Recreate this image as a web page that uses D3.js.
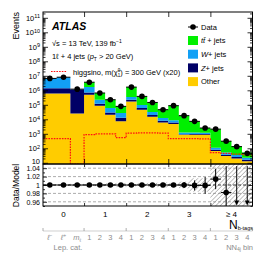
<!DOCTYPE html>
<html>
<head>
<meta charset="utf-8">
<script src="https://cdn.jsdelivr.net/npm/d3@7"></script>
<style>
  body { margin: 0; background: #fff; }
  svg text { font-family: "Liberation Sans", Arial, Helvetica, sans-serif; }
</style>
</head>
<body>
<svg id="chart" width="266" height="253"></svg>
<script>
'use strict';

// Bins: three lepton categories (0 b-tags), then NN bins 1-4 per b-tag group.
var binLabels = ['ℓ-', 'ℓ+', 'mℓ',
  '1', '2', '3', '4', '1', '2', '3', '4',
  '1', '2', '3', '4', '1', '2', '3', '4'];
var groupLabels = ['0', '1', '2', '3', '≥ 4'];
var groupSizes = [3, 4, 4, 4, 4];

var data = [6.6e6, 8.0e6, 1.2e6, 3.6e6, 6.5e5, 2.24e5, 7.8e4, 1.66e6, 3.8e5,
  1.45e5, 4.6e4, 8.7e4, 1.78e4, 7.2e3, 2.5e3, 2.1e3, 310, 130, 45];
var ttbar = [3e4, 3.5e4, 5e3, 1.95e6, 4.26e5, 1.64e5, 5.05e4, 1.31e6, 2.84e5,
  1.13e5, 3.36e4, 7.85e4, 1.66e4, 6.05e3, 1.3e3, 1.99e3, 265, 106, 29];
var wjets = [5.15e6, 6.55e6, 3e4, 9.5e5, 1.04e5, 3.0e4, 1.49e4, 1.26e5, 3.5e4,
  1.2e4, 4.5e3, 2.5e3, 300, 270, 250, 30, 15, 10, 6];
var zjets = [8.1e5, 8.1e5, 1.12e6, 2.1e5, 3.3e4, 9e3, 5.4e3, 5.4e4, 1.5e4,
  5e3, 2e3, 1.2e3, 80, 80, 80, 15, 7, 5, 3];
var other = [6.0e5, 6.0e5, 2.5e4, 5.0e5, 8.7e4, 2.1e4, 7.2e3, 1.7e5, 4.6e4,
  1.5e4, 5.9e3, 4.8e3, 850, 870, 870, 65, 29, 20, 13];
// higgsino signal, scaled x20
var signal = [460, 460, 3, 890, 1000, 1000, 540, 1100, 1170, 1170, 1100,
  460, 460, 460, 440, 50, 45, 40, 35];

// Data/Model panel
var ratio = [1, 1, 1, 1, 1, 1, 1, 1, 1, 1, 1, 1, 1, 0.999, 0.999, 1.014,
  0.982, 0.92, 0.88];
var ratioErr = [0.0005, 0.0005, 0.001, 0.0006, 0.0013, 0.002, 0.004, 0.001,
  0.002, 0.003, 0.005, 0.003, 0.007, 0.012, 0.02, 0.024, 0.063, 0.125, 0.165];
var modelErr = [0.002, 0.002, 0.003, 0.002, 0.003, 0.004, 0.005, 0.003, 0.004,
  0.005, 0.006, 0.005, 0.008, 0.016, 0.016, 0.06, 0.06, 0.06, 0.06];
var ratioTicks = [0.96, 0.98, 1, 1.02, 1.04];

var legendItems = [
  {key: 'ttbar', label: 'tt̄ + jets', color: '#00f000'},
  {key: 'wjets', label: 'W+ jets', color: '#12a0f5'},
  {key: 'zjets', label: 'Z+ jets', color: '#000066'},
  {key: 'other', label: 'Other', color: '#ffcc00'}
];

// ---- layout ----
var frame = {left: 43, right: 252.5, top: 12, mainBottom: 164, ratioBottom: 206};
var lepWidth = 1.3;
var edges = [0];
binLabels.forEach(function(b, i) {
  edges.push(edges[i] + (i < 3 ? lepWidth : 1));
});
var groupEdges = [0];
groupSizes.forEach(function(n, i) { groupEdges.push(groupEdges[i] + n); });

var svg = d3.select('#chart');
var x = d3.scaleLinear().domain([0, edges[edges.length - 1]])
  .range([frame.left, frame.right]);
var yMin = Math.pow(10, 0.917), yMax = Math.pow(10, 11.4);
var y = d3.scaleLog().domain([yMin, yMax]).range([frame.mainBottom, frame.top]);
var yr = d3.scaleLinear().domain([0.95, 1.05])
  .range([frame.ratioBottom, frame.mainBottom]);
var colors = {};
legendItems.forEach(function(d) { colors[d.key] = d.color; });

var defs = svg.append('defs');
defs.append('clipPath').attr('id', 'clipMain').append('rect')
  .attr('x', frame.left).attr('y', frame.top)
  .attr('width', frame.right - frame.left)
  .attr('height', frame.mainBottom - frame.top);
defs.append('clipPath').attr('id', 'clipRatio').append('rect')
  .attr('x', frame.left).attr('y', frame.mainBottom)
  .attr('width', frame.right - frame.left)
  .attr('height', frame.ratioBottom - frame.mainBottom);
defs.append('pattern').attr('id', 'hatch')
  .attr('width', 3.2).attr('height', 3.2)
  .attr('patternUnits', 'userSpaceOnUse')
  .attr('patternTransform', 'rotate(45)')
  .append('line').attr('x1', 0).attr('y1', 0).attr('x2', 0).attr('y2', 3.2)
  .attr('stroke', '#555').attr('stroke-width', 0.7);

function lo(v) { return Math.max(v, yMin); }

// ---- stacked backgrounds ----
var rows = binLabels.map(function(b, i) {
  return {other: other[i], zjets: zjets[i], wjets: wjets[i], ttbar: ttbar[i]};
});
var stack = d3.stack().keys(['other', 'zjets', 'wjets', 'ttbar'])(rows);
var area = d3.area()
  .x(function(p) { return x(p.x); })
  .y0(function(p) { return y(lo(p.y0)); })
  .y1(function(p) { return y(lo(p.y1)); });

var main = svg.append('g').attr('clip-path', 'url(#clipMain)');
stack.forEach(function(layer) {
  var pts = [];
  layer.forEach(function(s, i) {
    pts.push({x: edges[i], y0: s[0], y1: s[1]});
    pts.push({x: edges[i + 1], y0: s[0], y1: s[1]});
  });
  main.append('path').attr('d', area(pts)).attr('fill', colors[layer.key]);
});

// signal as a dotted step line
var sigPts = [];
signal.forEach(function(v, i) {
  sigPts.push([x(edges[i]), y(lo(v))]);
  sigPts.push([x(edges[i + 1]), y(lo(v))]);
});
main.append('path').attr('d', d3.line()(sigPts))
  .attr('fill', 'none').attr('stroke', '#ff1010')
  .attr('stroke-width', 1.2).attr('stroke-dasharray', '1.6,1.1');

// data points
var centers = binLabels.map(function(b, i) { return x((edges[i] + edges[i + 1]) / 2); });
data.forEach(function(v, i) {
  main.append('line')
    .attr('x1', x(edges[i])).attr('x2', x(edges[i + 1]))
    .attr('y1', y(v)).attr('y2', y(v))
    .attr('stroke', '#000').attr('stroke-width', 1);
  main.append('circle').attr('cx', centers[i]).attr('cy', y(v)).attr('r', 2.8)
    .attr('fill', '#000');
});

// ---- ratio panel ----
var rp = svg.append('g').attr('clip-path', 'url(#clipRatio)');
modelErr.forEach(function(e, i) {
  rp.append('rect')
    .attr('x', x(edges[i])).attr('width', x(edges[i + 1]) - x(edges[i]))
    .attr('y', yr(1 + e)).attr('height', yr(1 - e) - yr(1 + e))
    .attr('fill', 'url(#hatch)');
});
ratioTicks.forEach(function(t) {
  rp.append('line')
    .attr('x1', frame.left).attr('x2', frame.right)
    .attr('y1', yr(t)).attr('y2', yr(t))
    .attr('stroke', t === 1 ? '#000' : '#8a8a8a')
    .attr('stroke-width', t === 1 ? 0.8 : 0.7)
    .attr('stroke-dasharray', '3,2');
});
ratio.forEach(function(r, i) {
  var top = yr(r + ratioErr[i]);
  if (r < 0.95) {
    // off-scale: line down to an arrow head at the bottom
    var bx = centers[i], by = frame.ratioBottom - 0.5;
    rp.append('line').attr('x1', bx).attr('x2', bx)
      .attr('y1', top).attr('y2', by - 4)
      .attr('stroke', '#000').attr('stroke-width', 1);
    rp.append('path')
      .attr('d', 'M' + (bx - 2.4) + ',' + (by - 5) + 'L' + (bx + 2.4) + ',' +
        (by - 5) + 'L' + bx + ',' + by + 'Z')
      .attr('fill', '#000');
    return;
  }
  rp.append('line').attr('x1', centers[i]).attr('x2', centers[i])
    .attr('y1', top).attr('y2', yr(r - ratioErr[i]))
    .attr('stroke', '#000').attr('stroke-width', 1);
  rp.append('line')
    .attr('x1', x(edges[i])).attr('x2', x(edges[i + 1]))
    .attr('y1', yr(r)).attr('y2', yr(r))
    .attr('stroke', '#000').attr('stroke-width', 1);
  rp.append('circle').attr('cx', centers[i]).attr('cy', yr(r)).attr('r', 2.8)
    .attr('fill', '#000');
});

// ---- frames and axes ----
[[frame.top, frame.mainBottom], [frame.mainBottom, frame.ratioBottom]].forEach(function(p) {
  svg.append('rect').attr('x', frame.left).attr('y', p[0])
    .attr('width', frame.right - frame.left).attr('height', p[1] - p[0])
    .attr('fill', 'none').attr('stroke', '#000').attr('stroke-width', 1);
});

var decades = d3.range(1, 12).map(function(e) { return Math.pow(10, e); });
var minors = [];
d3.range(0, 12).forEach(function(e) {
  d3.range(2, 10).forEach(function(m) {
    var v = m * Math.pow(10, e);
    if (v > yMin && v < yMax) { minors.push(v); }
  });
});

function tickAxis(axis, tx, size) {
  var g = svg.append('g').attr('transform', tx).call(axis.tickSizeOuter(0).tickSizeInner(-size));
  g.select('.domain').remove();
  g.selectAll('line').attr('stroke', '#000').attr('stroke-width', 0.8);
  return g;
}

// main y axis
var yLab = tickAxis(d3.axisLeft(y).tickValues(decades).tickPadding(3),
  'translate(' + frame.left + ',0)', 5);
yLab.selectAll('text').attr('font-size', 7.5).attr('fill', '#000')
  .each(function(d) {
    var e = Math.round(Math.log10(d));
    var t = d3.select(this).text(null);
    t.append('tspan').text('10');
    if (e > 1) {
      t.append('tspan').attr('dy', '-0.45em').attr('font-size', 5.5).text(e);
    } else {
      // lowest label sits just above the ratio panel labels
      t.attr('dy', '0.05em');
    }
  });
tickAxis(d3.axisLeft(y).tickValues(minors).tickFormat(''),
  'translate(' + frame.left + ',0)', 2.5);
tickAxis(d3.axisRight(y).tickValues(decades).tickFormat(''),
  'translate(' + frame.right + ',0)', 5);
tickAxis(d3.axisRight(y).tickValues(minors).tickFormat(''),
  'translate(' + frame.right + ',0)', 2.5);

// ratio y axis
var rLab = tickAxis(d3.axisLeft(yr).tickValues(ratioTicks).tickPadding(3)
  .tickFormat(function(d) { return d === 1 ? '1' : d3.format('.2f')(d); }),
  'translate(' + frame.left + ',0)', 4);
rLab.selectAll('text').attr('font-size', 7).attr('fill', '#000');
tickAxis(d3.axisRight(yr).tickValues(ratioTicks).tickFormat(''),
  'translate(' + frame.right + ',0)', 4);
var rMinor = [0.95, 0.97, 0.99, 1.01, 1.03];
tickAxis(d3.axisLeft(yr).tickValues(rMinor).tickFormat(''),
  'translate(' + frame.left + ',0)', 2);
tickAxis(d3.axisRight(yr).tickValues(rMinor).tickFormat(''),
  'translate(' + frame.right + ',0)', 2);

// x ticks on group boundaries
var gb = groupEdges.slice(1, -1).map(function(k) { return edges[k]; });
tickAxis(d3.axisTop(x).tickValues(gb).tickFormat(''),
  'translate(0,' + frame.top + ')', 5);
tickAxis(d3.axisBottom(x).tickValues(gb).tickFormat(''),
  'translate(0,' + frame.mainBottom + ')', 5);
tickAxis(d3.axisTop(x).tickValues(gb).tickFormat(''),
  'translate(0,' + frame.mainBottom + ')', 3);
tickAxis(d3.axisBottom(x).tickValues(gb).tickFormat(''),
  'translate(0,' + frame.ratioBottom + ')', 3);

// group labels (N b-tags)
groupLabels.forEach(function(g, i) {
  svg.append('text')
    .attr('x', x((edges[groupEdges[i]] + edges[groupEdges[i + 1]]) / 2))
    .attr('y', 216.5).attr('text-anchor', 'middle').attr('font-size', 8)
    .text(g);
});
var nb = svg.append('text').attr('x', 253).attr('y', 228.5)
  .attr('text-anchor', 'end').attr('font-size', 12);
nb.append('tspan').text('N');
nb.append('tspan').attr('font-size', 5.5).attr('dy', 1.5).text('b-tags');

// secondary axis: lepton category / NN bin
var grey = '#8c8c8c';
svg.append('line').attr('x1', frame.left).attr('x2', frame.right)
  .attr('y1', 231).attr('y2', 231).attr('stroke', '#bbb').attr('stroke-width', 0.7);
groupEdges.forEach(function(k) {
  svg.append('line').attr('x1', x(edges[k])).attr('x2', x(edges[k]))
    .attr('y1', 228).attr('y2', 231).attr('stroke', grey).attr('stroke-width', 0.7);
});
binLabels.forEach(function(b, i) {
  var t = svg.append('text').attr('x', centers[i]).attr('y', 240)
    .attr('text-anchor', 'middle').attr('font-size', 7.5).attr('fill', grey);
  if (i < 3) {
    t.append('tspan').attr('font-style', 'italic').text(b.charAt(0));
    t.append('tspan').attr('font-size', 5).attr('dy', b.charAt(0) === 'm' ? 1.8 : -3)
      .text(b.charAt(1) === '-' ? '−' : b.charAt(1));
  } else {
    t.text(b);
  }
});
svg.append('text').attr('x', 68).attr('y', 249.5).attr('text-anchor', 'middle')
  .attr('font-size', 7.5).attr('fill', grey).text('Lep. cat.');
var nn = svg.append('text').attr('x', 253).attr('y', 249.5)
  .attr('text-anchor', 'end').attr('font-size', 7.5).attr('fill', grey);
nn.append('tspan').text('NN');
nn.append('tspan').attr('font-size', 5).attr('dy', 1.5).text('4j');
nn.append('tspan').attr('dy', -1.5).text(' bin');

// axis titles
svg.append('text').attr('transform', 'translate(19,12) rotate(-90)')
  .attr('text-anchor', 'end').attr('font-size', 9).text('Events');
svg.append('text').attr('transform', 'translate(18.5,185.5) rotate(-90)')
  .attr('text-anchor', 'middle').attr('font-size', 8.5).text('Data/Model');

// ---- labels on the plot ----
svg.append('text').attr('x', 52).attr('y', 29.5).attr('font-size', 10.5)
  .attr('font-weight', 'bold').attr('font-style', 'italic').text('ATLAS');
var l1 = svg.append('text').attr('x', 52).attr('y', 46).attr('font-size', 7.5);
l1.append('tspan').text('√s = 13 TeV, 139 fb');
l1.append('tspan').attr('font-size', 5).attr('dy', -3).text('−1');
var l2 = svg.append('text').attr('x', 52).attr('y', 59).attr('font-size', 7.5);
l2.append('tspan').text('1ℓ + 4 jets (');
l2.append('tspan').attr('font-style', 'italic').text('p');
l2.append('tspan').attr('font-size', 5).attr('dy', 1.5).text('T');
l2.append('tspan').attr('dy', -1.5).text(' > 20 GeV)');

svg.append('line').attr('x1', 51).attr('x2', 67).attr('y1', 71.5).attr('y2', 71.5)
  .attr('stroke', '#ff1010').attr('stroke-width', 1.2).attr('stroke-dasharray', '1.6,1.1');
var ls = svg.append('text').attr('x', 73).attr('y', 74.5).attr('font-size', 7.5);
ls.append('tspan').text('higgsino, m(χ̃');
ls.append('tspan').attr('font-size', 4.5).attr('dy', -3).text('0');
ls.append('tspan').attr('font-size', 4.5).attr('dx', -2.5).attr('dy', 5).text('1');
ls.append('tspan').attr('dy', -2).text(') = 300 GeV (x20)');

// legend
var lx = 188, ly = 27;
svg.append('line').attr('x1', lx).attr('x2', lx + 10).attr('y1', ly).attr('y2', ly)
  .attr('stroke', '#000').attr('stroke-width', 1);
svg.append('circle').attr('cx', lx + 5).attr('cy', ly).attr('r', 2.8).attr('fill', '#000');
svg.append('text').attr('x', lx + 13).attr('y', ly + 2.7).attr('font-size', 7.5).text('Data');
legendItems.forEach(function(d, i) {
  var top = 36 + i * 13.7;
  svg.append('rect').attr('x', lx).attr('y', top).attr('width', 10).attr('height', 9)
    .attr('fill', d.color);
  var t = svg.append('text').attr('x', lx + 13).attr('y', top + 7.2).attr('font-size', 7.5);
  var head = d.label.indexOf('+') > 0 ? d.label.slice(0, d.label.indexOf('+')) : null;
  if (head) {
    t.append('tspan').attr('font-style', 'italic').text(head);
    t.append('tspan').text(d.label.slice(head.length));
  } else {
    t.text(d.label);
  }
});
</script>
</body>
</html>
